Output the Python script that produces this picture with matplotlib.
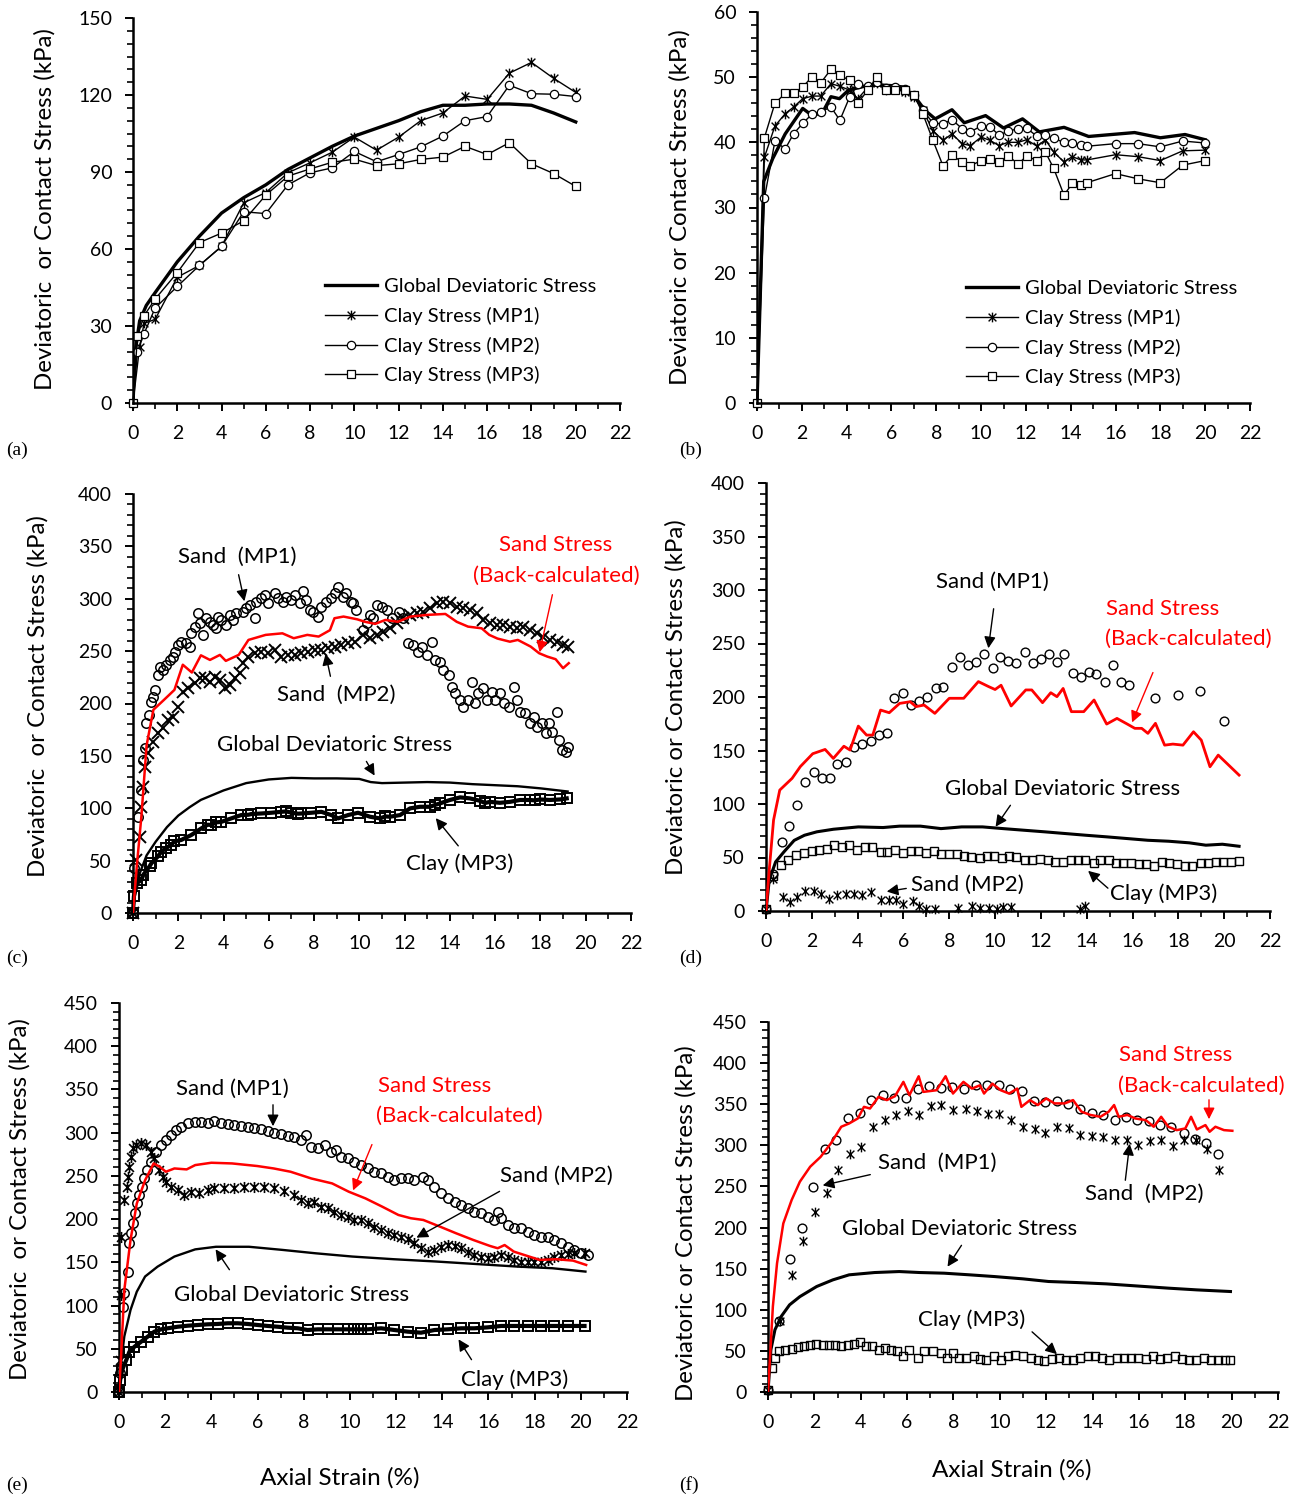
import matplotlib
matplotlib.use("Agg")
import matplotlib.pyplot as plt
from matplotlib.path import Path
from matplotlib.ticker import MultipleLocator

plt.rcParams['font.family'] = ['Lato', 'DejaVu Sans']

# === DATA ===
# (a)
a_glob_x = [0, 0.1, 0.3, 0.6, 1, 2, 3, 4, 5, 6, 7, 8, 9, 10, 11, 12, 13, 14, 15, 16, 17, 18, 19, 20]
a_glob_y = [0, 20, 32, 38, 43, 55, 65, 74, 80, 85, 91, 95.5, 100, 104, 107, 110, 113.5, 116, 116, 116.5, 116.5, 116, 113, 109.5]
a_mp1_x = [0, 0.3, 0.5, 1, 2, 3, 4, 5, 6, 7, 8, 9, 10, 11, 12, 13, 14, 15, 16, 17, 18, 19, 20]
a_mp1_y = [0, 22, 31, 32.6, 49, 53.6, 61, 78, 82, 89.7, 93.6, 97.7, 103.6, 98.5, 103.6, 110, 113, 119.6, 118.3, 128.5, 132.7, 126.5, 121]
a_mp2_x = [0, 0.2, 0.5, 1, 2, 3, 4, 5, 6, 7, 8, 9, 10, 11, 12, 13, 14, 15, 16, 17, 18, 19, 20]
a_mp2_y = [0, 20, 27, 37, 45.4, 53.6, 61, 74.5, 73.8, 85, 89.7, 91.6, 98, 94, 96.8, 99.8, 104, 110, 111.6, 123.8, 120.5, 120.3, 119.4]
a_mp3_x = [0, 0.2, 0.5, 1, 2, 3, 4, 5, 6, 7, 8, 9, 10, 11, 12, 13, 14, 15, 16, 17, 18, 19, 20]
a_mp3_y = [0, 26, 34, 40.5, 50.8, 62.5, 66.2, 71, 81, 88.4, 91.2, 93.8, 95, 92.5, 93.2, 94.9, 95.8, 100, 96.8, 101.4, 93.2, 89.4, 84.4]

# (b)
b_glob_x = [0, 0.3, 0.7, 1.26, 2.04, 2.47, 2.93, 3.3, 3.68, 4.08, 4.9, 5.5, 6, 6.5, 7, 7.5, 7.95,
            8.7, 9.25, 10.2, 11, 11.85, 12.6, 13.7, 14.8, 16.85, 18, 19.1, 20]
b_glob_y = [0, 34, 37.5, 41.3, 45.2, 44.1, 44.6, 47, 46.7, 48, 48.7, 48.8, 48.7, 48.5, 47.2, 44.9, 43.6,
            45, 43, 44.1, 42.2, 43.6, 41.6, 42.3, 40.9, 41.5, 40.7, 41.2, 40.4]
b_x = [0, 0.33, 0.8, 1.26, 1.63, 2.04, 2.47, 2.84, 3.3, 3.7, 4.14, 4.5, 4.94, 5.35, 5.76, 6.18, 6.59, 7,
       7.4, 7.85, 8.3, 8.7, 9.15, 9.52, 10, 10.4, 10.8, 11.2, 11.66, 12.03, 12.5, 12.87, 13.24, 13.7,
       14.07, 14.45, 14.72, 16, 17, 18, 19, 20]
b_mp1 = [0, 37.7, 42.5, 44.4, 45.4, 46.7, 47.1, 47.1, 49, 48.6, 48, 46.7, 48.4, 49.1, 48, 48.2, 47.7, 47,
         44.9, 41.8, 40.3, 41.3, 39.8, 39.5, 40.8, 40.3, 39.5, 40, 40, 40.4, 39.4, 40.4, 38.5, 37,
         37.8, 37.3, 37.3, 38.1, 37.8, 37.2, 38.7, 38.8]
b_mp2 = [0, 31.4, 40.2, 39, 41.3, 42.9, 44.4, 44.7, 45.4, 43.4, 47, 48.9, 48.6, 49.3, 48.4, 48.5, 48.2, 47.3,
         44.9, 43, 42.8, 43.5, 42.1, 41.6, 42.5, 42.4, 41.1, 41.7, 42.1, 42.2, 40.9, 41.1, 40.6, 40,
         39.9, 39.6, 39.4, 39.8, 39.8, 39.3, 40.2, 39.9]
b_mp3 = [0, 40.7, 46, 47.5, 47.5, 48.5, 50.1, 49.1, 51.2, 50.3, 49.5, 46, 48, 50, 48, 48.1, 48.1, 47.3,
         44.4, 40.3, 36.4, 38, 37, 36.4, 37.2, 37.4, 37, 37.9, 36.7, 37.9, 37.2, 38.5, 36, 31.9,
         33.7, 33.5, 33.8, 35.2, 34.4, 33.8, 36.5, 37.2]

# (c)
c_glob_x = [0, 0.1, 0.3, 0.6, 1, 1.5, 2, 2.5, 3, 4, 5, 6, 7, 8, 9, 10, 10.5, 11, 12, 13, 14, 15, 16, 17, 18, 19, 19.2]
c_glob_y = [0, 20, 38, 55, 68, 82, 93, 101, 108, 117, 124, 127.5, 129, 128.5, 128.5, 128, 125, 124, 124.5, 125,
            124.5, 123, 122, 121, 119, 116.5, 116]
c_red_x = [0, 0.18, 0.37, 0.6, 0.9, 1.37, 1.83, 2.2, 2.6, 3, 3.4, 3.84, 4.1, 4.67, 5.1, 5.86, 6.6, 7.1, 7.7, 8.2,
           8.7, 8.9, 9.3, 9.9, 10.25, 10.7, 11.15, 11.7, 12.26, 13, 13.8, 14.3, 14.8, 15.4, 15.74, 16.1, 16.65,
           17, 17.57, 17.94, 18.3, 18.67, 19, 19.25]
c_red_y = [0, 47.7, 92, 160, 194, 203.5, 213, 237, 229.6, 246, 241.6, 246.4, 240.7, 246.4, 260.7, 265.5, 267,
           262.3, 265.5, 263.9, 270, 281.4, 283, 280.4, 278, 276, 279.8, 278, 283, 284.6, 285.5, 278, 273.4,
           271.8, 265.5, 262, 259, 260.7, 254.3, 248, 244.8, 242.3, 233.7, 238.5]
c_mp1_x = [0, 0.04, 0.22, 0.37, 0.44, 0.52, 0.59, 0.69, 0.81, 0.88, 0.96, 1.1, 1.18, 1.33, 1.47, 1.62, 1.77,
           1.84, 1.99, 2.13, 2.35, 2.5, 2.58, 2.73, 2.87, 2.95, 3.09, 3.24, 3.39, 3.53, 3.68, 3.75, 3.9, 4.12,
           4.27, 4.42, 4.56, 4.86, 5.0, 5.15, 5.38, 5.45, 5.67, 5.82, 5.96, 6.26, 6.41, 6.63, 6.77, 7.0, 7.14,
           7.36, 7.51, 7.66, 7.81, 7.95, 8.17, 8.32, 8.54, 8.76, 8.91, 9.06, 9.28, 9.42, 9.64, 9.73, 9.86,
           10.17, 10.32, 10.47, 10.62, 10.77, 10.99, 11.21, 11.44, 11.73, 11.94, 12.17, 12.39, 12.61, 12.76,
           12.98, 13.2, 13.35, 13.57, 13.71, 13.94, 14.09, 14.24, 14.45, 14.6, 14.82, 14.97, 15.11, 15.25,
           15.48, 15.62, 15.85, 16.0, 16.22, 16.37, 16.59, 16.81, 16.96, 17.11, 17.33, 17.55, 17.7, 17.85,
           18.08, 18.23, 18.38, 18.53, 18.75, 18.82, 18.97, 19.12, 19.2]
c_mp1_y = [0, 43, 91.9, 117.4, 146, 157.2, 181, 189, 201.7, 206.5, 212.9, 227.2, 235.1, 232, 236.8, 241.5, 244.7,
           249.4, 255.8, 258.9, 257.4, 254.2, 267, 273.3, 286, 276.5, 265.4, 281.3, 278, 275, 271.7, 282.8,
           279.7, 275, 284.5, 279.7, 286, 287.6, 290.8, 294, 281.3, 297.1, 300.3, 303.6, 295.6, 305.1, 300.3,
           297.1, 301.9, 298.8, 303.6, 295.6, 307.2, 298.8, 289.3, 287.6, 282.8, 292.3, 297.1, 300.3, 305.1,
           311.4, 301.9, 305.1, 297.1, 295.6, 289.3, 270.2, 276.5, 284.5, 281.3, 294, 292.3, 289.3, 281.3,
           287.6, 281.3, 257.4, 255.8, 249.4, 254.2, 246.3, 259, 241.5, 239.9, 232, 227.2, 216, 209.7, 203.3,
           197, 203.3, 220.7, 200.2, 209.7, 214.4, 203.3, 211.3, 203.3, 209.7, 200.2, 197, 216, 203.3, 192.2,
           190.6, 181, 187.4, 177.9, 181, 171.5, 181, 173.1, 192.2, 165.2, 155.6, 154, 158.8]
c_mp2_x = [0, 0.15, 0.29, 0.37, 0.44, 0.52, 0.66, 0.88, 1.1, 1.33, 1.55, 1.77, 1.99, 2.21, 2.43, 2.73, 2.95,
           3.17, 3.39, 3.61, 3.83, 4.05, 4.27, 4.49, 4.71, 4.86, 5.08, 5.38, 5.67, 5.96, 6.26, 6.55, 6.85, 7.14,
           7.44, 7.73, 8.03, 8.32, 8.61, 8.91, 9.2, 9.5, 9.79, 10.17, 10.47, 10.77, 11.06, 11.35, 11.65, 11.94,
           12.24, 12.53, 12.83, 13.12, 13.42, 13.71, 14.0, 14.3, 14.59, 14.89, 15.18, 15.48, 15.77, 16.07,
           16.36, 16.65, 16.95, 17.24, 17.54, 17.83, 18.13, 18.42, 18.72, 19.01, 19.23]
c_mp2_y = [0, 50.6, 72.8, 101.4, 120.6, 139.6, 152.4, 163.5, 171.5, 176.2, 184.2, 187.4, 197, 211.3, 214.4,
           219.2, 224, 224, 220.7, 225.5, 222.4, 214.4, 217.7, 224, 228.8, 238.3, 244.6, 247.8, 249.4, 247.8,
           251, 244.6, 246.3, 246.3, 247.8, 249.4, 251, 251, 252.6, 254.1, 255.8, 257.4, 258.9, 265.4, 262.2,
           265.4, 268.5, 271.7, 276.5, 281.3, 284.5, 286.1, 287.6, 290.8, 295.6, 297.1, 295.6, 292.3, 290.8,
           289.3, 286.1, 279.7, 276.5, 274.9, 274.9, 273.2, 271.7, 273.2, 270.2, 267, 263.8, 260.6, 258.9,
           255.8, 253.6]
c_mp3_x = [0, 0.04, 0.18, 0.37, 0.46, 0.73, 0.81, 1.1, 1.25, 1.46, 1.69, 1.83, 2.13, 2.58, 3.02, 3.3, 3.46,
           3.66, 3.9, 4.34, 4.78, 5.1, 5.23, 5.67, 6.11, 6.55, 6.77, 7.0, 7.3, 7.44, 7.88, 8.32, 8.76, 9.06,
           9.5, 9.94, 10.47, 10.91, 11.15, 11.35, 11.8, 12.24, 12.68, 13.12, 13.36, 13.56, 14.0, 14.45, 14.89,
           15.33, 15.55, 15.77, 16.21, 16.65, 17.1, 17.54, 17.75, 17.98, 18.42, 18.86, 19.16]
c_mp3_y = [0, 16, 28.6, 31.5, 36.6, 44.5, 47.4, 54, 58.5, 62, 65, 68.4, 69.7, 74.5, 80.8, 84.3, 84, 86.5, 87,
           90.3, 93.5, 93.8, 94.5, 95, 95.7, 96.6, 97, 95.7, 94.8, 95, 95.7, 96.6, 93.5, 90.3, 93.5, 95.7,
           91.9, 90.3, 92.2, 91.9, 93.5, 99.9, 101.4, 101.4, 103.3, 104.6, 107.9, 110.4, 109.4, 107.1, 105,
           106.1, 105.2, 106.1, 107.9, 107.9, 107.5, 108.4, 107.9, 108.4, 109.4]

# (d)
d_glob_x = [0, 0.14, 0.42, 0.78, 1.23, 1.68, 2.22, 2.94, 4.03, 5.11, 5.83, 6.74, 7.64, 8.54, 9.45, 10.35, 11.25,
            12.16, 13.06, 13.96, 14.87, 15.77, 16.67, 17.58, 18.48, 19.2, 19.92, 20.65]
d_glob_y = [0, 28.7, 45.9, 55.2, 66, 70.8, 74, 76.4, 78.6, 78, 79.3, 79.3, 77, 78.6, 78.6, 77, 75.5, 74, 72.4,
            70.8, 69.3, 67.7, 66.1, 65.2, 63.7, 61.5, 62.4, 60.5]
d_red_x = [0, 0.14, 0.33, 0.6, 1.14, 1.5, 2.04, 2.58, 2.94, 3.4, 3.67, 4.03, 4.39, 4.66, 5, 5.38, 5.83, 6.29,
           6.55, 6.9, 7.37, 8, 8.63, 9.27, 9.72, 10, 10.26, 10.7, 11.34, 11.6, 12.07, 12.43, 12.7, 12.97, 13.33,
           13.87, 14.32, 14.87, 15.32, 15.77, 16.1, 16.4, 16.67, 17, 17.4, 17.76, 18.2, 18.66, 19, 19.38, 19.74,
           20.65]
d_red_y = [0, 38, 85, 113, 124, 135, 147, 151, 142.6, 154, 150.4, 172.8, 164.4, 164.4, 187.8, 185.3, 194, 195.6,
           191, 192.5, 184.7, 198.8, 198.8, 214.4, 209.7, 207, 211, 191.6, 206.6, 206.6, 194.7, 204, 200.3, 208,
           186.3, 186.3, 197.2, 174.7, 180, 174.7, 170.7, 170.7, 166, 175.4, 155, 156, 155, 167.5, 159.7, 134.8,
           145.7, 127]
d_mp1_x = [0, 0.3, 0.7, 1, 1.35, 1.7, 2.08, 2.44, 2.8, 3.12, 3.49, 3.85, 4.2, 4.57, 4.93, 5.3, 5.6, 5.96, 6.32,
           6.68, 7.04, 7.4, 7.73, 8.1, 8.45, 8.8, 9.17, 9.5, 9.9, 10.2, 10.57, 10.93, 11.3, 11.65, 12, 12.34,
           12.7, 13, 13.38, 13.74, 14.1, 14.4, 14.78, 15.14, 15.5, 15.86, 17, 17.97, 18.93, 19.98]
d_mp1_y = [2, 35, 64.6, 79, 99.5, 120.7, 130, 124, 124, 137.3, 139.5, 153.5, 156, 159, 164.4, 166.6, 198.8, 204,
           192.5, 196, 200.3, 208, 209, 227.8, 237.8, 230, 233, 240.3, 226.8, 237.8, 233.7, 231.5, 242.1, 232,
           235.3, 240.3, 233, 240.3, 222, 219, 223.7, 221.5, 214.4, 230, 214.4, 211.2, 198.8, 201.9, 205.6, 177.8]
d_mp2_x = [0, 0.3, 0.74, 1.05, 1.35, 1.7, 2.08, 2.4, 2.76, 3.12, 3.49, 3.85, 4.2, 4.6, 5, 5.35, 5.69, 6, 6.4,
           6.7, 7, 7.37, 8.36, 9, 9.36, 9.72, 10.08, 10.35, 10.7, 13.7, 13.93]
d_mp2_y = [2, 30, 13, 8.4, 13, 18.7, 18.7, 15.6, 11.5, 14.7, 16.2, 15.6, 14.7, 17.8, 10, 10.6, 10, 6.2, 9.4,
           4.4, 2.2, 2.2, 3.1, 4.4, 3.1, 3.1, 2.2, 3.7, 3.7, 2.2, 4.4]
d_mp3_x = [0, 0.3, 0.65, 0.96, 1.32, 1.64, 2, 2.3, 2.67, 2.98, 3.3, 3.63, 3.97, 4.3, 4.62, 5, 5.3, 5.65, 5.96,
           6.32, 6.65, 6.97, 7.33, 7.64, 8, 8.33, 8.63, 8.96, 9.32, 9.63, 9.95, 10.3, 10.62, 10.93, 11.3, 11.6,
           11.97, 12.3, 12.6, 12.97, 13.3, 13.6, 13.93, 14.3, 14.6, 14.96, 15.27, 15.6, 15.95, 16.28, 16.6,
           16.94, 17.3, 17.6, 17.94, 18.3, 18.6, 18.97, 19.3, 19.65, 19.96, 20.29, 20.65]
d_mp3_y = [2, 33, 42.7, 48, 52, 54.3, 55.8, 56.8, 58.3, 61.5, 60, 61.5, 57.4, 60, 60, 55.2, 55.2, 56.8, 54.3,
           55.8, 55.8, 54.3, 55.8, 53, 53, 53, 51.2, 50.5, 50, 51.2, 51.2, 49.6, 51.2, 50.5, 48, 47.4, 49, 47.4,
           45.9, 45.9, 47.4, 47.4, 47.4, 45, 47.4, 47.4, 45, 45, 45, 43.7, 43.7, 41.8, 45.9, 45, 44.3, 41.8,
           41.8, 45, 45, 45.9, 45.9, 45.9, 46.8]

# (e)
e_glob_x = [0, 0.09, 0.23, 0.5, 0.77, 1.13, 1.67, 2.4, 3.3, 4.2, 5.63, 7.07, 8.5, 10.1, 11.9, 13.7, 15.5, 17.3,
            18.76, 20.2]
e_glob_y = [0, 33.5, 64.3, 95, 116, 133.6, 145, 156.7, 165, 168, 168, 164.4, 160.5, 156.7, 153.6, 151, 148, 145,
            143.2, 139.3]
e_red_x = [0, 0.09, 0.23, 0.5, 0.77, 1.13, 1.5, 1.76, 2.03, 2.4, 2.93, 3.3, 4, 4.9, 5.99, 6.7, 7.43, 8.33, 9.23,
           9.95, 10.67, 11.4, 12.1, 12.64, 13.18, 13.9, 14.6, 15.34, 16.06, 16.4, 16.7, 17.1, 17.68, 18.22,
           18.94, 19.66, 20.23]
e_red_y = [0, 41, 118, 176, 218, 245, 264.4, 260.6, 254.8, 258.6, 257.5, 262.5, 265.2, 264.4, 261.4, 258.6,
           254.8, 247, 241.3, 231.7, 224, 214.4, 204.8, 201, 199, 191.3, 183.6, 175.9, 169, 166.3, 170, 162.4,
           157.4, 152.8, 153.6, 152, 147]
e_mp1_x = [0, 0.05, 0.16, 0.23, 0.38, 0.45, 0.52, 0.59, 0.7, 0.78, 0.88, 0.98, 1.1, 1.2, 1.39, 1.61, 1.82, 2.04,
           2.26, 2.47, 2.69, 2.98, 3.27, 3.56, 3.84, 4.13, 4.42, 4.71, 5.0, 5.29, 5.57, 5.86, 6.15, 6.44, 6.73,
           7.02, 7.31, 7.6, 7.89, 8.1, 8.32, 8.61, 8.9, 9.19, 9.4, 9.62, 9.9, 10.19, 10.48, 10.77, 11.06, 11.35,
           11.64, 11.93, 12.22, 12.5, 12.79, 13.15, 13.37, 13.66, 13.95, 14.24, 14.53, 14.82, 15.1, 15.39,
           15.68, 15.97, 16.26, 16.4, 16.55, 16.83, 17.12, 17.41, 17.7, 17.99, 18.28, 18.57, 18.86, 19.15,
           19.43, 19.72, 20.01, 20.3]
e_mp1_y = [0, 22, 98.7, 114.2, 139.2, 172, 183.6, 195.2, 206.7, 218.3, 227.9, 237.5, 247.2, 256.8, 266.4, 278,
           285.7, 291.5, 297.3, 303.1, 306.9, 310.8, 312.7, 312.7, 311.5, 313.9, 311.5, 310, 308.9, 307.7, 306.9,
           305.1, 303.9, 302.3, 300, 298.5, 296.2, 294.7, 291.5, 297.3, 283.8, 281.9, 285.7, 278, 280, 272.2,
           270.3, 266.4, 262.6, 258.8, 254.9, 253, 249.1, 245.3, 247.2, 247.2, 245.3, 249.1, 245.3, 237.5,
           229.9, 224.1, 220.2, 216.3, 212.5, 208.6, 206.7, 202.8, 199, 208.6, 200.9, 193.2, 189.4, 189.4,
           185.5, 181.6, 179.7, 179.7, 175.8, 172, 168.1, 164.3, 160.5, 158.5]
e_mp2_x = [0, 0.05, 0.07, 0.09, 0.23, 0.35, 0.38, 0.45, 0.52, 0.59, 0.74, 0.96, 1.17, 1.39, 1.53, 1.75, 1.89,
           2.04, 2.26, 2.54, 2.83, 3.12, 3.48, 3.84, 4.13, 4.56, 5.0, 5.43, 5.86, 6.3, 6.73, 7.16, 7.6, 7.89,
           8.17, 8.46, 8.75, 9.04, 9.33, 9.62, 9.9, 10.19, 10.48, 10.77, 11.06, 11.35, 11.64, 11.93, 12.22,
           12.5, 12.79, 13.08, 13.37, 13.66, 13.95, 14.24, 14.53, 14.82, 15.1, 15.39, 15.68, 15.97, 16.26,
           16.55, 16.83, 17.12, 17.41, 17.7, 17.99, 18.28, 18.57, 18.86, 19.15, 19.43, 19.72, 20.16]
e_mp2_y = [0, 37.3, 112.4, 179.7, 222, 237.5, 249, 260.6, 272.2, 281.9, 285.7, 287.7, 285.7, 278, 270.3, 256.8,
           249, 243.3, 237.5, 233.7, 227.9, 231.7, 229.9, 233.7, 235.6, 235.6, 235.6, 236.8, 237.5, 236.8, 235.6,
           232.9, 227.9, 222, 218.3, 220.2, 214.4, 212.5, 208.6, 204.8, 202.1, 199, 199, 195.2, 191.3, 187.4,
           183.6, 181.6, 179, 176.6, 172, 166.2, 162.3, 164.3, 168.1, 170.1, 168.9, 166.2, 162.3, 158.5, 156.5,
           154.7, 156.5, 158.5, 156.5, 152.7, 150.7, 150.7, 150.7, 150.7, 152.7, 156.5, 158.5, 159.6, 160.5,
           160.5]
e_mp3_x = [0, 0.05, 0.14, 0.32, 0.45, 0.67, 0.96, 1.24, 1.53, 1.82, 2.11, 2.54, 2.98, 3.41, 3.84, 4.27, 4.71,
           5.14, 5.57, 6.01, 6.44, 6.87, 7.31, 7.74, 8.17, 8.61, 9.04, 9.47, 9.9, 10.19, 10.48, 10.77, 11.35,
           11.93, 12.5, 13.08, 13.66, 14.24, 14.82, 15.39, 15.97, 16.55, 17.12, 17.7, 18.28, 18.86, 19.43, 20.16]
e_mp3_y = [0, 14, 25.8, 37.3, 46.6, 52.4, 58.2, 64, 69.8, 72.5, 73.7, 75.5, 76.7, 77.5, 78.3, 78.7, 79.5, 79.5,
           78.7, 77.5, 76.4, 75.5, 74.4, 73.7, 71.7, 72.5, 72.5, 72.5, 72.5, 72.5, 72.5, 72.5, 73.7, 71.7, 69.8,
           68.6, 71.7, 72.5, 73.7, 73.7, 74.8, 76.4, 76.4, 76.4, 76.4, 76.4, 76.4, 76.4]

# (f)
f_glob_x = [0, 0.125, 0.3, 0.57, 0.93, 1.375, 2.1, 2.8, 3.5, 4.6, 5.66, 6.55, 7.6, 8.7, 9.77, 11, 12.1, 13.34,
            14.6, 15.84, 17.27, 18.5, 19.95]
f_glob_y = [0, 51.4, 75.7, 91.9, 106, 116, 128.3, 136.4, 142.5, 145.3, 146.5, 145.3, 144.5, 142.5, 140.4, 137.6,
            134.4, 133.1, 131.5, 129.1, 126.3, 124.2, 122.2]
f_red_x = [0, 0.09, 0.21, 0.39, 0.66, 1.02, 1.375, 1.82, 2.27, 2.71, 3.16, 3.5, 3.875, 4.14, 4.4, 4.77, 5.125,
           5.48, 5.84, 6.1, 6.5, 6.7, 7.27, 7.66, 7.98, 8.43, 8.8, 9.14, 9.32, 9.68, 10.04, 10.4, 10.75, 10.93,
           11.3, 11.64, 12, 12.36, 12.8, 13.16, 13.52, 13.9, 14.34, 14.7, 14.93, 15.13, 15.5, 15.84, 16.3,
           16.64, 16.96, 17.27, 17.63, 18, 18.25, 18.5, 18.87, 19.05, 19.3, 19.67, 20.03]
f_red_y = [0, 43.3, 104, 156.6, 205, 233.5, 255.8, 274, 286, 302.3, 322.6, 326.6, 332.7, 346.8, 344.8, 359, 355,
           359.8, 377.2, 361, 384, 365, 367, 384, 363, 377.2, 369, 373, 363, 375, 367, 363, 369, 346.8, 355, 349,
           357, 351, 351, 355, 341, 337, 334.7, 341, 349, 334.7, 337, 332.7, 330.6, 322.6, 334.7, 322.6, 318.5,
           320.5, 334.7, 319.3, 324.6, 316.5, 322.6, 318.5, 317.7]
f_mp1_x = [0, 0.48, 0.96, 1.46, 1.96, 2.48, 2.95, 3.45, 3.96, 4.46, 4.95, 5.45, 5.96, 6.46, 6.96, 7.45, 7.95,
           8.46, 8.96, 9.45, 9.95, 10.44, 10.96, 11.46, 11.95, 12.45, 12.95, 13.46, 13.96, 14.45, 14.95, 15.45,
           15.93, 16.43, 16.9, 17.4, 17.93, 18.43, 18.9, 19.4]
f_mp1_y = [2.8, 85.8, 161.5, 199, 249, 296, 306.5, 333.5, 339.5, 355.7, 361.8, 358, 357, 368, 372.3, 370.3, 371,
           368, 373, 373, 373, 368, 365.8, 354, 353, 354, 350, 343.6, 339.5, 336.7, 330.6, 333.9, 330.6, 329.8,
           324.6, 322.6, 314.4, 307.2, 303.1, 289.4]
f_mp2_x = [0, 0.5, 1.02, 1.52, 2.03, 2.54, 3.02, 3.52, 4.02, 4.54, 5.04, 5.52, 6.02, 6.52, 7.04, 7.48, 7.98, 8.52,
           9, 9.5, 9.98, 10.48, 10.98, 11.5, 11.96, 12.48, 12.98, 13.46, 13.96, 14.46, 14.98, 15.48, 15.98,
           16.46, 16.95, 17.48, 17.95, 18.48, 18.93, 19.45]
f_mp2_y = [2.8, 85.8, 142.5, 184, 218.5, 242.4, 270, 289, 298.3, 322.6, 330.6, 336.7, 341.6, 336.7, 348, 349.6,
           342.8, 344, 342, 338, 338.7, 331.4, 322.6, 319.3, 315.3, 321.8, 321.4, 312.4, 311.6, 310.4, 306.3,
           306.3, 300.3, 305.1, 306.3, 299, 306.3, 306.3, 295, 270]
f_mp3_x = [0, 0.16, 0.3, 0.48, 0.75, 1.02, 1.29, 1.55, 1.82, 2.09, 2.36, 2.62, 2.89, 3.16, 3.43, 3.7, 3.96, 4.23,
           4.5, 4.77, 5.04, 5.3, 5.57, 5.84, 6.1, 6.46, 6.73, 7.1, 7.45, 7.71, 7.98, 8.25, 8.52, 8.88, 9.14,
           9.41, 9.77, 10.04, 10.34, 10.66, 11.02, 11.34, 11.64, 11.9, 12.23, 12.54, 12.86, 13.16, 13.48,
           13.79, 14.09, 14.41, 14.73, 15.04, 15.36, 15.66, 15.98, 16.29, 16.61, 16.91, 17.23, 17.54, 17.86,
           18.16, 18.48, 18.79, 19.11, 19.41, 19.73, 19.95]
f_mp3_y = [2.8, 29, 41.3, 49.4, 51.4, 52.2, 54.6, 56.3, 57.5, 58.7, 57.5, 57.5, 57.5, 56.3, 57.5, 58.7, 60.3,
           56.3, 55.4, 51.4, 53.4, 51.4, 49.4, 44.1, 51.4, 41.3, 49.4, 49.4, 47.3, 41.3, 47.3, 41.3, 41.3, 43.3,
           40, 39.3, 43.3, 39.3, 43.3, 45.3, 43.3, 41.3, 39.3, 37.2, 40, 41.3, 39.3, 38.4, 41.3, 43.3, 43.3,
           41.3, 38.4, 41.3, 41.3, 41.3, 41.3, 40, 43.3, 40, 41.3, 43.3, 40, 38.4, 39.3, 41.3, 39.3, 38.4, 38.4,
           38.4]

# === FIGURE ===
W, H = 1300, 1497
fig = plt.figure(figsize=(13, 14.97), dpi=100)
RED = '#ff0000'
# Excel-style asterisk: an "x" crossed by a vertical bar
STAR = Path([(-1, -1), (1, 1), (-1, 1), (1, -1), (0, -1.25), (0, 1.25)],
            [Path.MOVETO, Path.LINETO, Path.MOVETO, Path.LINETO, Path.MOVETO, Path.LINETO])
NOTE_FS = 16


def px(x, y):
    return x / W, 1 - y / H


def make_axes(left, top, right, bottom, ymax, ymaj, nminor=5):
    ax = fig.add_axes([left / W, 1 - bottom / H, (right - left) / W, (bottom - top) / H])
    ax.set_xlim(0, 22)
    ax.set_ylim(0, ymax)
    for s in ['top', 'right']:
        ax.spines[s].set_visible(False)
    for s in ['left', 'bottom']:
        ax.spines[s].set_linewidth(1.8)
    ax.xaxis.set_major_locator(MultipleLocator(2))
    ax.xaxis.set_minor_locator(MultipleLocator(1))
    ax.yaxis.set_major_locator(MultipleLocator(ymaj))
    ax.yaxis.set_minor_locator(MultipleLocator(ymaj / nminor))
    ax.tick_params(which='major', length=6, width=1.4, labelsize=14)
    ax.tick_params(which='minor', length=4, width=1.2)
    ax.tick_params(axis='x', which='both', pad=10)
    ax.tick_params(axis='y', which='both', pad=9)
    return ax


def ylab(text, x, y):
    fig.text(x / W, 1 - y / H, text, rotation=90, ha='center', va='center', fontsize=17.3)


def note(text, x, y, color='black', ha='center', size=NOTE_FS):
    fig.text(x / W, 1 - y / H, text, ha=ha, va='center', color=color, fontsize=size)


def arrow(x1, y1, x2, y2, color='black'):
    fig.add_artist(matplotlib.patches.FancyArrowPatch(
        px(x1, y1), px(x2, y2), transform=fig.transFigure, arrowstyle='-|>',
        mutation_scale=17, color=color, lw=1.0))


def panel_label(text, x, y):
    fig.text(x / W, 1 - y / H, text, ha='left', va='center', fontsize=14,
             family='Liberation Serif')


def marks(ax, x, y, marker, ms, mew=1.0, band=0):
    # dense gauge readings: markers only, optionally over a dark band
    if band:
        ax.plot(x, y, color='black', lw=band, clip_on=False, zorder=2.5)
    ax.plot(x, y, lw=0, marker=marker, ms=ms, mfc='none', mec='black', mew=mew,
            clip_on=False, zorder=3)


def legend(ax, x, y):
    ax.legend(loc='upper left', bbox_to_anchor=px(x, y), bbox_transform=fig.transFigure, frameon=False,
              fontsize=14.5, handlelength=2.6, handletextpad=0.35, labelspacing=0.58,
              borderpad=0, borderaxespad=0)


# ---- (a) ----
ax = make_axes(133, 18, 620, 403, 150, 30, 6)
ax.plot(a_glob_x, a_glob_y, color='black', lw=2.4, label='Global Deviatoric Stress', zorder=2)
ax.plot(a_mp1_x, a_mp1_y, color='black', lw=1, marker=STAR, ms=7, mew=1, label='Clay Stress (MP1)', clip_on=False)
ax.plot(a_mp2_x, a_mp2_y, color='black', lw=1, marker='o', ms=6, mfc='white', mew=0.9, label='Clay Stress (MP2)', clip_on=False)
ax.plot(a_mp3_x, a_mp3_y, color='black', lw=1, marker='s', ms=6, mfc='white', mew=0.9, label='Clay Stress (MP3)', clip_on=False)
legend(ax, 325, 278)
ylab('Deviatoric  or Contact Stress (kPa)', 45, 209)
panel_label('(a)', 6, 450)

# ---- (b) ----
ax = make_axes(757, 12, 1250, 403, 60, 10)
ax.plot(b_glob_x, b_glob_y, color='black', lw=2.4, label='Global Deviatoric Stress', zorder=2)
ax.plot(b_x, b_mp1, color='black', lw=1, marker=STAR, ms=7, mew=1, label='Clay Stress (MP1)', clip_on=False)
ax.plot(b_x, b_mp2, color='black', lw=1, marker='o', ms=6, mfc='white', mew=0.9, label='Clay Stress (MP2)', clip_on=False)
ax.plot(b_x, b_mp3, color='black', lw=1, marker='s', ms=6, mfc='white', mew=0.9, label='Clay Stress (MP3)', clip_on=False)
legend(ax, 966, 280)
ylab('Deviatoric or Contact Stress (kPa)', 680, 207)
panel_label('(b)', 679, 450)

# ---- (c) ----
ax = make_axes(133, 494, 631, 913, 400, 50)
ax.plot(c_glob_x, c_glob_y, color='black', lw=1.7, zorder=2)
marks(ax, c_mp3_x, c_mp3_y, 's', 7, 1.4, band=3)
marks(ax, c_mp2_x, c_mp2_y, 'x', 8.5, 1.4)
marks(ax, c_mp1_x, c_mp1_y, 'o', 6.8, 1.1)
ax.plot(c_red_x, c_red_y, color=RED, lw=1.8, zorder=4)
ylab('Deviatoric  or Contact Stress (kPa)', 38, 696)
note('Sand  (MP1)', 237, 557)
arrow(238, 572, 245, 604)
note('Sand  (MP2)', 336, 695)
arrow(331, 679, 325, 651)
note('Global Deviatoric Stress', 335, 745)
arrow(365, 759, 376, 778)
note('Clay (MP3)', 460, 864)
arrow(460, 848, 434, 816)
note('Sand Stress', 556, 545, RED)
note('(Back-calculated)', 556, 576, RED)
arrow(553, 592, 539, 655, RED)
panel_label('(c)', 6, 958)

# ---- (d) ----
ax = make_axes(766, 483, 1270, 911, 400, 50)
ax.plot(d_glob_x, d_glob_y, color='black', lw=2.2, zorder=2)
marks(ax, d_mp3_x, d_mp3_y, 's', 6.3, 1.0)
marks(ax, d_mp2_x, d_mp2_y, STAR, 7, 1.0)
marks(ax, d_mp1_x, d_mp1_y, 'o', 6.3, 1.0)
ax.plot(d_red_x, d_red_y, color=RED, lw=2, zorder=4)
ylab('Deviatoric or Contact Stress (kPa)', 676, 697)
note('Sand (MP1)', 992, 582)
arrow(994, 606, 988, 651)
note('Sand Stress', 1106, 609, RED, 'left')
note('(Back-calculated)', 1105, 639, RED, 'left')
arrow(1154, 670, 1131, 725, RED)
note('Global Deviatoric Stress', 945, 789, ha='left')
arrow(1012, 803, 994, 829)
note('Sand (MP2)', 911, 885, ha='left')
arrow(909, 888, 884, 892)
note('Clay (MP3)', 1110, 894, ha='left')
arrow(1110, 890, 1086, 869)
panel_label('(d)', 679, 958)

# ---- (e) ----
ax = make_axes(119, 1003, 627, 1392, 450, 50)
ax.plot(e_glob_x, e_glob_y, color='black', lw=1.7, zorder=2)
marks(ax, e_mp3_x, e_mp3_y, 's', 7, 1.4, band=3)
marks(ax, e_mp2_x, e_mp2_y, STAR, 8, 1.2)
marks(ax, e_mp1_x, e_mp1_y, 'o', 6.8, 1.1)
ax.plot(e_red_x, e_red_y, color=RED, lw=1.8, zorder=4)
ylab('Deviatoric  or Contact Stress (kPa)', 20, 1199)
note('Sand (MP1)', 232, 1089)
arrow(273, 1102, 273, 1129)
note('Sand Stress', 378, 1086, RED, 'left')
note('(Back-calculated)', 376, 1116, RED, 'left')
arrow(373, 1142, 352, 1193, RED)
note('Sand (MP2)', 556, 1176)
arrow(502, 1190, 414, 1239)
note('Global Deviatoric Stress', 292, 1295)
arrow(231, 1272, 214, 1247)
note('Clay (MP3)', 515, 1380)
arrow(473, 1362, 457, 1337)
note('Axial Strain (%)', 340, 1478, size=17.5)
panel_label('(e)', 6, 1485)

# ---- (f) ----
ax = make_axes(768, 1022, 1278, 1392, 450, 50)
ax.plot(f_glob_x, f_glob_y, color='black', lw=2.2, zorder=2)
marks(ax, f_mp3_x, f_mp3_y, 's', 6.3, 1.0)
marks(ax, f_mp2_x, f_mp2_y, STAR, 7, 1.0)
marks(ax, f_mp1_x, f_mp1_y, 'o', 6.3, 1.0)
ax.plot(f_red_x, f_red_y, color=RED, lw=1.8, zorder=4)
ylab('Deviatoric or Contact Stress (kPa)', 686, 1223)
note('Sand  (MP1)', 937, 1163)
arrow(873, 1174, 820, 1186)
note('Sand  (MP2)', 1144, 1194)
arrow(1125, 1183, 1130, 1141)
note('Sand Stress', 1119, 1055, RED, 'left')
note('(Back-calculated)', 1118, 1086, RED, 'left')
arrow(1209, 1097, 1209, 1122, RED)
note('Global Deviatoric Stress', 960, 1229)
arrow(963, 1243, 946, 1269)
note('Clay (MP3)', 972, 1320)
arrow(1030, 1330, 1059, 1356)
note('Axial Strain (%)', 1012, 1470, size=17.5)
panel_label('(f)', 679, 1485)

fig.savefig('out.png', dpi=100)
